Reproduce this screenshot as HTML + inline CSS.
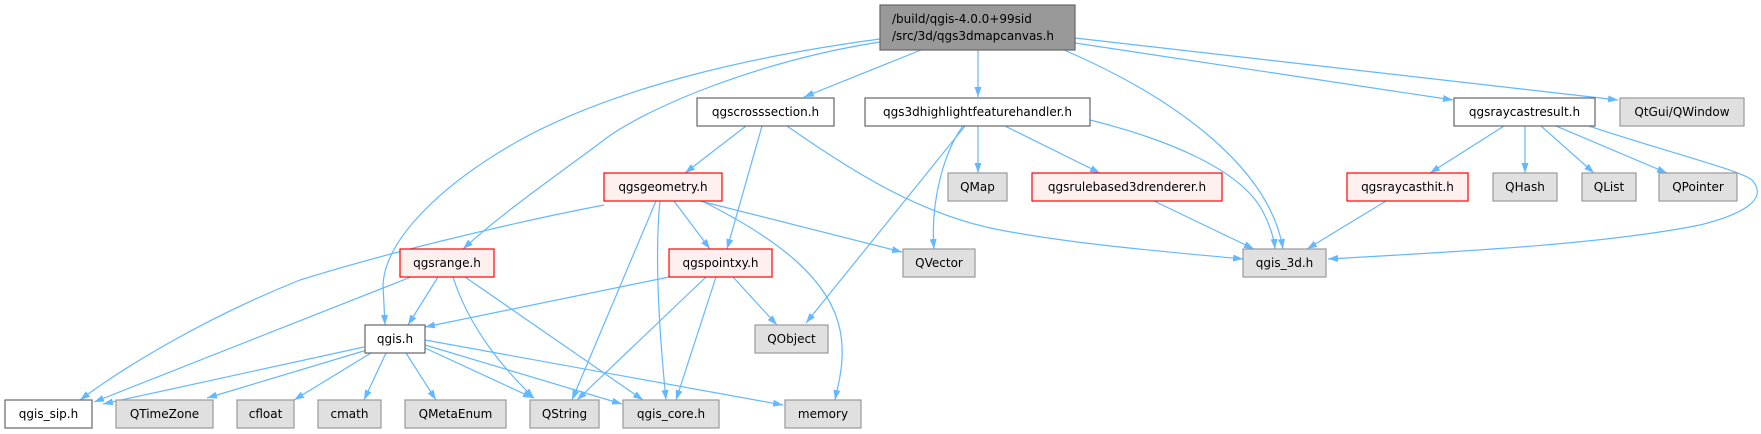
<!DOCTYPE html>
<html><head><meta charset="utf-8"><style>
html,body{margin:0;padding:0;background:#fff;}
svg{display:block;}
text{font-family:"DejaVu Sans","Liberation Sans",sans-serif;font-size:12px;fill:#000;}
.e{fill:none;stroke:#63b8ff;stroke-width:1.2;marker-end:url(#a);}
.w{fill:#fff;stroke:#666;stroke-width:1.2;}
.g{fill:#e0e0e0;stroke:#999;stroke-width:1.2;}
.r{fill:#fff0f0;stroke:#f00;stroke-width:1.2;}
</style></head><body>
<svg width="1761" height="434" viewBox="0 0 1761 434" xmlns="http://www.w3.org/2000/svg">
<defs><marker id="a" markerUnits="userSpaceOnUse" markerWidth="11" markerHeight="8" refX="10" refY="3.5" orient="auto"><path d="M0,0 L10,3.5 L0,7 z" fill="#63b8ff"/></marker></defs>

<!-- edges from main -->
<path class="e" d="M921,50 L804,97"/>
<path class="e" d="M978,50 L978,97"/>
<path class="e" d="M1075,43 L1453,100"/>
<path class="e" d="M1075,38 L1618,100"/>
<path class="e" d="M1064,50 C1180,100 1270,170 1283,249"/>
<path class="e" d="M880,42 C760,60 640,110 600,143 C550,180 500,215 463,249"/>
<path class="e" d="M880,39 C760,55 620,85 520,140 C440,185 385,240 383,285 L385,325"/>

<!-- qgscrosssection -->
<path class="e" d="M746,126 L685,173"/>
<path class="e" d="M762,126 L727,249"/>
<path class="e" d="M787,126 C850,170 920,215 1000,230 C1080,245 1170,252 1243,259"/>

<!-- qgs3dhighlight -->
<path class="e" d="M978,126 L978,173"/>
<path class="e" d="M1005,126 L1100,173"/>
<path class="e" d="M965,126 L806,323"/>
<path class="e" d="M963,126 C945,150 930,200 934,249"/>
<path class="e" d="M1090,120 C1170,140 1240,170 1262,210 C1270,225 1274,238 1275,249"/>

<!-- qgsraycastresult -->
<path class="e" d="M1504,126 L1430,173"/>
<path class="e" d="M1525,126 L1525,173"/>
<path class="e" d="M1541,126 L1594,173"/>
<path class="e" d="M1556,126 L1667,173"/>
<path class="e" d="M1589,126 C1660,150 1740,170 1752,180 C1770,200 1740,215 1700,225 C1600,245 1450,252 1328,259"/>

<!-- row3 to row4 -->
<path class="e" d="M1154,201 L1254,249"/>
<path class="e" d="M1386,201 L1307,249"/>
<path class="e" d="M674,201 L710,249"/>
<path class="e" d="M700,201 L902,252"/>
<path class="e" d="M702,201 C780,240 830,280 840,330 C846,360 838,385 835,400"/>
<path class="e" d="M660,201 C654,260 660,340 666,400"/>
<path class="e" d="M656,201 L572,400"/>
<path class="e" d="M604,205 C500,225 380,255 300,280 C200,320 120,370 80,400"/>

<!-- qgspointxy -->
<path class="e" d="M669,277 L425,327"/>
<path class="e" d="M706,277 L577,400"/>
<path class="e" d="M716,277 L676,400"/>
<path class="e" d="M733,277 L777,325"/>

<!-- qgsrange -->
<path class="e" d="M411,277 L94,402"/>
<path class="e" d="M438,277 L408,325"/>
<path class="e" d="M453,277 C470,330 505,370 534,398"/>
<path class="e" d="M465,277 L643,400"/>

<!-- qgis.h -->
<path class="e" d="M364,347 L103,404"/>
<path class="e" d="M367,350 L207,398"/>
<path class="e" d="M371,353 L294,400"/>
<path class="e" d="M386,353 L364,400"/>
<path class="e" d="M406,353 L436,400"/>
<path class="e" d="M425,348 L533,398"/>
<path class="e" d="M425,345 L622,404"/>
<path class="e" d="M425,340 L783,405"/>

<!-- nodes -->
<rect x="880" y="5" width="195" height="45" fill="#999" stroke="#666" stroke-width="1.2"/>
<text x="892" y="23">/build/qgis-4.0.0+99sid</text>
<text x="892" y="40">/src/3d/qgs3dmapcanvas.h</text>

<rect class="w" x="697" y="98" width="137" height="28"/><text x="765.5" y="116" text-anchor="middle">qgscrosssection.h</text>
<rect class="w" x="865" y="98" width="225" height="28"/><text x="977.5" y="116" text-anchor="middle">qgs3dhighlightfeaturehandler.h</text>
<rect class="w" x="1454" y="98" width="141" height="28"/><text x="1524.5" y="116" text-anchor="middle">qgsraycastresult.h</text>
<rect class="g" x="1620" y="98" width="124" height="28"/><text x="1682" y="116" text-anchor="middle">QtGui/QWindow</text>

<rect class="r" x="604" y="173" width="118" height="28"/><text x="663" y="191" text-anchor="middle">qgsgeometry.h</text>
<rect class="g" x="948" y="173" width="59" height="28"/><text x="977.5" y="191" text-anchor="middle">QMap</text>
<rect class="r" x="1032" y="173" width="190" height="28"/><text x="1127" y="191" text-anchor="middle">qgsrulebased3drenderer.h</text>
<rect class="r" x="1347" y="173" width="121" height="28"/><text x="1407.5" y="191" text-anchor="middle">qgsraycasthit.h</text>
<rect class="g" x="1493" y="173" width="64" height="28"/><text x="1525" y="191" text-anchor="middle">QHash</text>
<rect class="g" x="1582" y="173" width="54" height="28"/><text x="1609" y="191" text-anchor="middle">QList</text>
<rect class="g" x="1659" y="173" width="78" height="28"/><text x="1698" y="191" text-anchor="middle">QPointer</text>

<rect class="r" x="400" y="249" width="94" height="28"/><text x="447" y="267" text-anchor="middle">qgsrange.h</text>
<rect class="r" x="669" y="249" width="103" height="28"/><text x="720.5" y="267" text-anchor="middle">qgspointxy.h</text>
<rect class="g" x="903" y="249" width="72" height="28"/><text x="939" y="267" text-anchor="middle">QVector</text>
<rect class="g" x="1243" y="249" width="83" height="28"/><text x="1284.5" y="267" text-anchor="middle">qgis_3d.h</text>

<rect class="w" x="365" y="325" width="60" height="28"/><text x="395" y="343" text-anchor="middle">qgis.h</text>
<rect class="g" x="755" y="325" width="73" height="28"/><text x="791.5" y="343" text-anchor="middle">QObject</text>

<rect class="w" x="5" y="400" width="87" height="28"/><text x="48.5" y="418" text-anchor="middle">qgis_sip.h</text>
<rect class="g" x="116" y="400" width="97" height="28"/><text x="164.5" y="418" text-anchor="middle">QTimeZone</text>
<rect class="g" x="237" y="400" width="57" height="28"/><text x="265.5" y="418" text-anchor="middle">cfloat</text>
<rect class="g" x="318" y="400" width="63" height="28"/><text x="349.5" y="418" text-anchor="middle">cmath</text>
<rect class="g" x="405" y="400" width="101" height="28"/><text x="455.5" y="418" text-anchor="middle">QMetaEnum</text>
<rect class="g" x="530" y="400" width="69" height="28"/><text x="564.5" y="418" text-anchor="middle">QString</text>
<rect class="g" x="623" y="400" width="96" height="28"/><text x="671" y="418" text-anchor="middle">qgis_core.h</text>
<rect class="g" x="785" y="400" width="76" height="28"/><text x="823" y="418" text-anchor="middle">memory</text>
</svg>
</body></html>
